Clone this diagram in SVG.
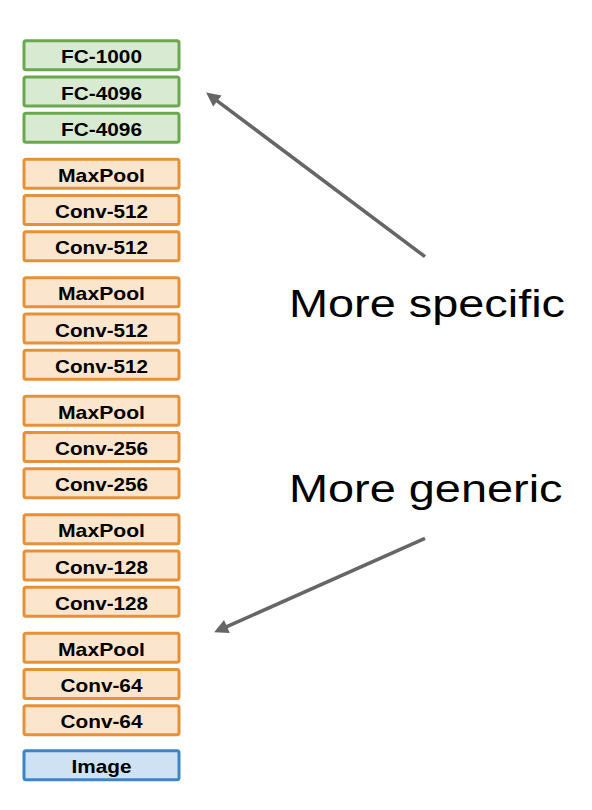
<svg xmlns="http://www.w3.org/2000/svg" width="592" height="810" viewBox="0 0 592 810">
<style>
.box rect{stroke-width:3}
.fc rect{fill:#d9ead3;stroke:#6aa84f}
.cv rect{fill:#fce5cd;stroke:#e69138}
.im rect{fill:#cfe2f3;stroke:#3d85c6}
.box text{font-family:"Liberation Sans",Arial,sans-serif;font-weight:bold;font-size:18.5px;fill:#000;text-anchor:middle}
.big{font-family:"Liberation Sans",Arial,sans-serif;font-size:38px;fill:#000}
.arr{stroke:#666666;stroke-width:3.5;fill:none}
</style>
<defs>
<marker id="ah" viewBox="0 0 10 10" refX="0.5" refY="5" markerUnits="userSpaceOnUse" markerWidth="16" markerHeight="14" orient="auto">
<path d="M0,0 L10,5 L0,10 z" fill="#666666"/>
</marker>
</defs>
<g id="fc1000" class="box fc"><rect x="24" y="40.8" width="155" height="29" rx="2"/><text x="101.5" y="63.3" textLength="81" lengthAdjust="spacingAndGlyphs">FC-1000</text></g>
<g id="fc4096a" class="box fc"><rect x="24" y="77" width="155" height="29" rx="2"/><text x="101.5" y="99.5" textLength="81" lengthAdjust="spacingAndGlyphs">FC-4096</text></g>
<g id="fc4096b" class="box fc"><rect x="24" y="113.2" width="155" height="29" rx="2"/><text x="101.5" y="135.7" textLength="81" lengthAdjust="spacingAndGlyphs">FC-4096</text></g>

<g id="pool5" class="box cv"><rect x="24" y="159.3" width="155" height="29" rx="2"/><text x="101.5" y="181.8" textLength="87" lengthAdjust="spacingAndGlyphs">MaxPool</text></g>
<g id="conv5b" class="box cv"><rect x="24" y="195.5" width="155" height="29" rx="2"/><text x="101.5" y="218" textLength="93" lengthAdjust="spacingAndGlyphs">Conv-512</text></g>
<g id="conv5a" class="box cv"><rect x="24" y="231.7" width="155" height="29" rx="2"/><text x="101.5" y="254.2" textLength="93" lengthAdjust="spacingAndGlyphs">Conv-512</text></g>

<g id="pool4" class="box cv"><rect x="24" y="277.8" width="155" height="29" rx="2"/><text x="101.5" y="300.3" textLength="87" lengthAdjust="spacingAndGlyphs">MaxPool</text></g>
<g id="conv4b" class="box cv"><rect x="24" y="314" width="155" height="29" rx="2"/><text x="101.5" y="336.5" textLength="93" lengthAdjust="spacingAndGlyphs">Conv-512</text></g>
<g id="conv4a" class="box cv"><rect x="24" y="350.2" width="155" height="29" rx="2"/><text x="101.5" y="372.7" textLength="93" lengthAdjust="spacingAndGlyphs">Conv-512</text></g>

<g id="pool3" class="box cv"><rect x="24" y="396.3" width="155" height="29" rx="2"/><text x="101.5" y="418.8" textLength="87" lengthAdjust="spacingAndGlyphs">MaxPool</text></g>
<g id="conv3b" class="box cv"><rect x="24" y="432.5" width="155" height="29" rx="2"/><text x="101.5" y="455" textLength="93" lengthAdjust="spacingAndGlyphs">Conv-256</text></g>
<g id="conv3a" class="box cv"><rect x="24" y="468.7" width="155" height="29" rx="2"/><text x="101.5" y="491.2" textLength="93" lengthAdjust="spacingAndGlyphs">Conv-256</text></g>

<g id="pool2" class="box cv"><rect x="24" y="514.8" width="155" height="29" rx="2"/><text x="101.5" y="537.3" textLength="87" lengthAdjust="spacingAndGlyphs">MaxPool</text></g>
<g id="conv2b" class="box cv"><rect x="24" y="551" width="155" height="29" rx="2"/><text x="101.5" y="573.5" textLength="93" lengthAdjust="spacingAndGlyphs">Conv-128</text></g>
<g id="conv2a" class="box cv"><rect x="24" y="587.2" width="155" height="29" rx="2"/><text x="101.5" y="609.7" textLength="93" lengthAdjust="spacingAndGlyphs">Conv-128</text></g>

<g id="pool1" class="box cv"><rect x="24" y="633.3" width="155" height="29" rx="2"/><text x="101.5" y="655.8" textLength="87" lengthAdjust="spacingAndGlyphs">MaxPool</text></g>
<g id="conv1b" class="box cv"><rect x="24" y="669.5" width="155" height="29" rx="2"/><text x="101.5" y="692" textLength="82" lengthAdjust="spacingAndGlyphs">Conv-64</text></g>
<g id="conv1a" class="box cv"><rect x="24" y="705.7" width="155" height="29" rx="2"/><text x="101.5" y="728.2" textLength="82" lengthAdjust="spacingAndGlyphs">Conv-64</text></g>

<g id="image" class="box im"><rect x="24" y="750.8" width="155" height="29" rx="2"/><text x="101.5" y="773.3" textLength="60" lengthAdjust="spacingAndGlyphs">Image</text></g>

<g id="label-specific"><text class="big" x="289" y="317.3" textLength="276" lengthAdjust="spacingAndGlyphs">More specific</text></g>
<g id="label-generic"><text class="big" x="289" y="502.3" textLength="273.5" lengthAdjust="spacingAndGlyphs">More generic</text></g>

<g id="connectors">
<line class="arr" x1="425" y1="256.7" x2="216.8" y2="100.6" marker-end="url(#ah)"/>
<line class="arr" x1="425" y1="538.3" x2="226.3" y2="626.8" marker-end="url(#ah)"/>
</g>
</svg>
